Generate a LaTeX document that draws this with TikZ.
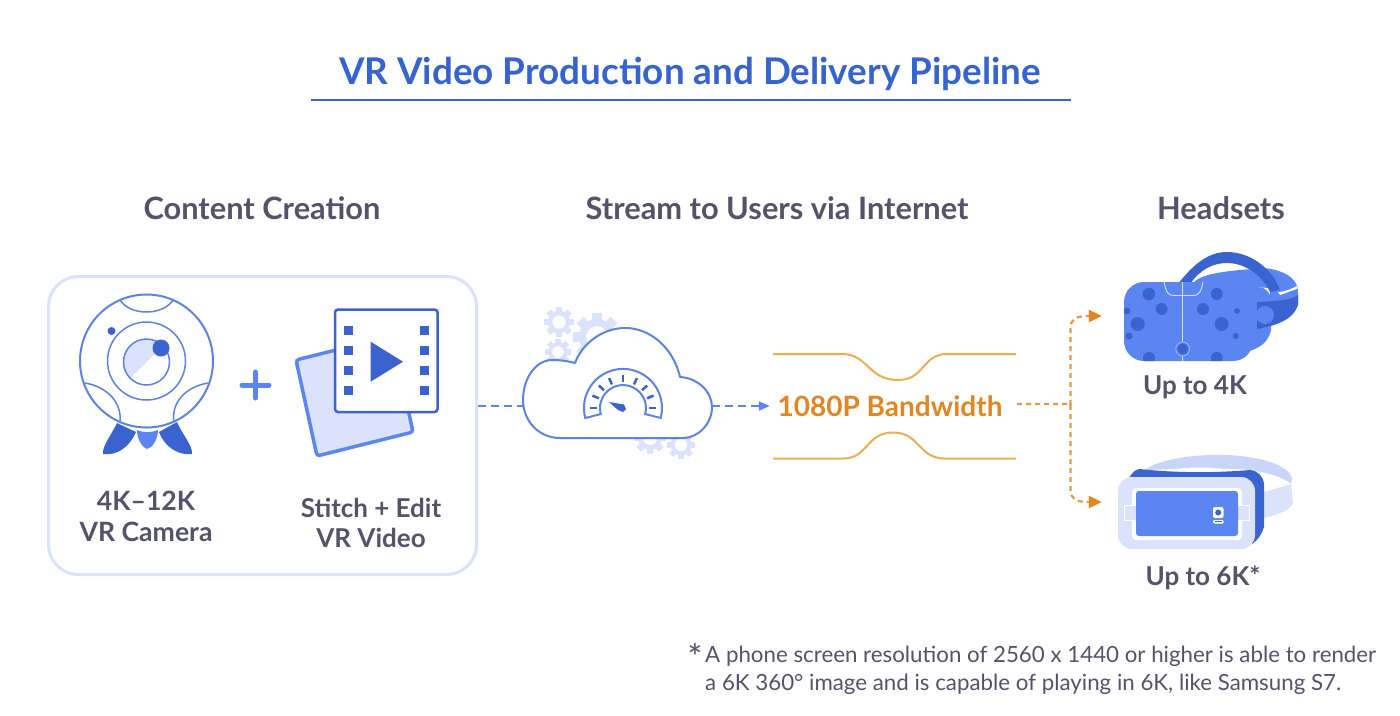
\documentclass[tikz,border=0pt]{standalone}
\usepackage{fontspec}
\setmainfont{Lato}
\usetikzlibrary{arrows.meta,calc}
\definecolor{cT}{HTML}{3563CF}
\definecolor{cB}{HTML}{5B86F2}
\definecolor{cD}{HTML}{3A63D0}
\definecolor{cL}{HTML}{DAE3FB}
\definecolor{cM}{HTML}{C9D6F9}
\definecolor{cLine}{HTML}{5A84E0}
\definecolor{cTxt}{HTML}{53536B}
\definecolor{cO}{HTML}{E3861F}
\definecolor{cOl}{HTML}{EFAE4E}
\tikzset{
 x=1pt,y=-1pt,
 heading/.style={font=\fontsize{30.8}{34}\selectfont\bfseries,text=cTxt,inner sep=0pt,anchor=center},
 caption/.style={font=\fontsize{26}{30}\selectfont\bfseries,text=cTxt,inner sep=0pt,align=center,anchor=center},
 outl/.style={draw=cLine,line width=2pt,line join=round},
 thin outl/.style={draw=cLine,line width=1.5pt},
 bluedash/.style={draw=cB,line width=2pt,dash pattern=on 8pt off 5pt},
 orangedash/.style={draw=cO!85,line width=2.2pt,dash pattern=on 5pt off 4pt},
 bluetip/.style={-{Triangle[length=11pt,width=9pt,fill=cB,sep=0pt]}},
 orangetip/.style={-{Triangle[length=13pt,width=12pt,fill=cO,color=cO]}},
 port/.style={inner sep=0pt,minimum size=0pt},
}
\newcommand{\gearshape}[3]{% x y r
 \begin{scope}[shift={(#1,#2)}]
 \foreach \a in {0,45,...,359}{\fill[cL,rotate=\a] (-#3*0.2,-#3*0.6) rectangle (#3*0.2,-#3);}
 \draw[cL,line width=#3*0.3pt] (0,0) circle[radius=#3*0.6];
 \end{scope}}
\newcommand{\dotc}[3]{\fill[cD] (#1,#2) circle[radius=#3];}
\begin{document}
\begin{tikzpicture}
\useasboundingbox (0,0) rectangle (1400,715);
\fill[white] (0,0) rectangle (1400,715);
% title
\node[inner sep=0pt,text=cT,font=\fontsize{36.8}{40}\selectfont\bfseries] (title) at (690,74) {VR Video Production and Delivery Pipeline};
\draw[cT,line width=2pt] (311,99.5) -- (1071,99.5);
% headings
\node[heading] (h1) at (262,208) {Content Creation};
\node[heading] (h2) at (777,208) {Stream to Users via Internet};
\node[heading] (h3) at (1221,208) {Headsets};
% panel
\node[draw=cL,line width=3pt,rounded corners=30pt,minimum width=428pt,minimum height=298pt,inner sep=0pt] (box) at (262.5,425.5) {};
% camera legs
\fill[cD] (117,423) .. controls (112,434) and (102,446) .. (103,454) .. controls (118,456) and (130,446) .. (136,432) -- cycle;
\fill[cD] (159,432) .. controls (164,446) and (178,456) .. (192,454) .. controls (193,446) and (182,434) .. (177,422) -- cycle;
\fill[cB] (137,430) .. controls (137,440) and (143,448) .. (147,449) .. controls (152,448) and (158,440) .. (158,430) .. controls (150,433) and (144,433) .. (137,430) -- cycle;
% camera
\draw[outl,fill=white] (146.5,361) circle[radius=66.5];
\draw[thin outl] (120,300) .. controls (130,316) and (163,316) .. (173,300);
\draw[thin outl] (85,383) .. controls (108,387) and (122,403) .. (120,422);
\draw[thin outl] (208,383) .. controls (185,387) and (171,403) .. (174,422);
\draw[thin outl] (146.5,361) circle[radius=39];
\fill[cL] (130.5,378) arc[start angle=135,end angle=315,radius=22.6] -- cycle;
\draw[thin outl] (146.5,362) circle[radius=23];
\fill[cD] (161,348) circle[radius=8.5];
\fill[cD] (111.5,331) circle[radius=4];
% plus
\draw[cB,line width=5pt,line cap=round] (242,385) -- (269,385) (255.5,372) -- (255.5,398);
% video
\draw[cB,line width=3.5pt,fill=cL,rounded corners=3pt] (296,360) -- (317,456) -- (413,432) -- (392,336) -- cycle;
\draw[cD,line width=2.5pt,fill=white,rounded corners=3pt] (335,309.5) rectangle (437.5,412);
\foreach \yy in {330,350,370,390}{
 \fill[cD] (343.5,\yy-4.5) rectangle (352.5,\yy+4.5);
 \fill[cD] (419.5,\yy-4.5) rectangle (428.5,\yy+4.5);}
\fill[cD] (370.7,341.7) -- (403,361.7) -- (370.7,381.7) -- cycle;
% captions
\node[caption,font=\fontsize{26.6}{31}\selectfont\bfseries] (capA) at (146,516) {4K–12K\\VR Camera};
\node[caption] (capB) at (371,523) {Stitch + Edit\\VR Video};
% gears
\gearshape{559}{322}{15}
\gearshape{597}{337}{24}
\gearshape{558}{352}{13}
\gearshape{650}{438}{16}
\gearshape{681}{445}{14}
% cloud
\path[outl,fill=white] (560,438) .. controls (538,438) and (523,420) .. (523,400)
 .. controls (523,378) and (536,360) .. (552,360)
 .. controls (560,360) and (568,361) .. (575,363)
 .. controls (582,344) and (602,328) .. (625,328)
 .. controls (652,328) and (674,350) .. (680,377)
 .. controls (698,378) and (712,392) .. (712,407)
 .. controls (712,424) and (698,438) .. (683,438) -- cycle;
% gauge
\draw[outl,line join=miter] (585.3,418) arc[start angle=165,end angle=375,radius=39] -- (645.2,414) arc[start angle=15,end angle=-195,radius=23] -- cycle;
\foreach \a in {0,22,43,65,90,115,137,158,180}{
 \draw[cD,line width=2.5pt] ($(623,408)+(-\a:26)$) -- ($(623,408)+(-\a:33)$);}
\fill[cD] (609,402) -- (624,404.5) -- (626,409) -- (623,412) -- (618,410) -- cycle;
% connector ends
\node[port] (cloudL) at (523,406) {};
\node[port] (cloudR) at (712,406) {};
\node[port] (boxE) at (478,406) {};
\node[port] (bwIn) at (770,406) {};
\draw[bluedash] (boxE) -- (cloudL);
\draw[bluedash,bluetip] (cloudR) -- (bwIn);
% bandwidth
\node[inner sep=0pt,text=cO,font=\fontsize{28}{32}\selectfont\bfseries] (bwl) at (890,406) {1080P Bandwidth};
\draw[cOl,line width=2pt] (773,354) -- (842,354) .. controls (868,354) and (868,380) .. (898,380) .. controls (925,380) and (922,354) .. (947,354) -- (1016,354);
\draw[cOl,line width=2pt] (773,458.5) -- (843,458.5) .. controls (868,458.5) and (866,432.5) .. (893,432.5) .. controls (920,432.5) and (918,458.5) .. (945,458.5) -- (1016,458.5);
% forks
\node[port] (vrA) at (1102,316) {};
\node[port] (vrB) at (1102,502) {};
\coordinate (fork) at (1070.5,405);
\coordinate (bwOut) at (1017,404);
\draw[orangedash] (bwOut) -- (1064,404) .. controls (1068,404) and (1070.5,402) .. (fork);
\draw[orangedash,orangetip] (fork) -- (1070.5,328) .. controls (1070.5,320) and (1075,316) .. (1088,316) -- (vrA);
\draw[orangedash,orangetip] (fork) -- (1070.5,490) .. controls (1070.5,498) and (1075,502) .. (1088,502) -- (vrB);
% headset 1
\fill[cB] (1193,284) .. controls (1198,272) and (1240,270) .. (1265,268) .. controls (1280,270) and (1298,276) .. (1298,292) -- (1298,304) -- (1270,304) -- (1270,288) -- cycle;
\fill[white] (1278,292) .. controls (1282,292) and (1287,291) .. (1297,286) -- (1297,289) -- (1280,295) -- cycle;
\fill[cD] (1178,284) .. controls (1195,262) and (1210,252) .. (1227,252) .. controls (1250,252) and (1272,268) .. (1280,290) -- (1270,292) .. controls (1262,275) and (1245,263) .. (1227,263) .. controls (1212,263) and (1200,270) .. (1190,284) -- cycle;
\fill[cB] (1245,285) -- (1263,288) .. controls (1268,290) and (1271,295) .. (1271,300) -- (1271,330) .. controls (1268,345) and (1255,350) .. (1245,352) -- cycle;
\fill[cD] (1257,302) .. controls (1275,301) and (1290,301) .. (1298,295) -- (1298,305) .. controls (1294,318) and (1280,325) .. (1257,329) -- cycle;
\fill[cB] (1265,315) circle[radius=9];
\begin{scope}
\path[fill=cB,rounded corners=20pt] (1124,282) rectangle (1253,361);
\clip[rounded corners=20pt] (1124,282) rectangle (1253,361);
\foreach \xx/\yy/\r in {1149/294/6.3,1161.7/309/6,1137.7/324/7,1127/311/3.5,1129/336/3.5,1149/358/6,1216.7/294/6,1203/309/6,1221.7/324/7,1237/311/3,1235.7/336/3,1216.7/358/6,1182.7/349/5.5}{\dotc{\xx}{\yy}{\r}}
\draw[cL,line width=.9pt] (1164,282) .. controls (1166,292) and (1168,295.5) .. (1174,295.5) -- (1193,295.5) .. controls (1199,295.5) and (1201,292) .. (1203,282);
\draw[cL,line width=.9pt] (1182.5,282) -- (1182.5,342) (1182.5,356) -- (1182.5,361);
\draw[cL!60!cB,line width=.6pt] (1182.7,349) circle[radius=7];
\end{scope}
\node[caption] (capC) at (1195,387) {Up to 4K};
% headset 2
\fill[cM] (1145,470) .. controls (1160,458) and (1200,454) .. (1225,455) .. controls (1260,456) and (1288,465) .. (1292,478) -- (1291,484) .. controls (1280,474) and (1250,468) .. (1225,469) .. controls (1210,467) and (1190,467) .. (1175,469) -- cycle;
\fill[cL] (1264,492) -- (1291,484) -- (1293,503) .. controls (1290,510) and (1280,514) .. (1264,518) -- cycle;
\fill[cD] (1128,480) .. controls (1132,472) and (1136,469) .. (1140,469) .. controls (1175,473) and (1215,473) .. (1250,470) .. controls (1258,471) and (1263,476) .. (1264,484) -- (1264,527) .. controls (1262,534) and (1258,540) .. (1252,544) -- (1240,480) -- cycle;
\fill[cL,rounded corners=14pt] (1118,477) rectangle (1255,549);
\fill[white,rounded corners=4pt] (1132,488) rectangle (1242,540);
\fill[cL] (1124,505) rectangle (1136,520);
\fill[cL] (1238,505) rectangle (1249,520);
\fill[cB,rounded corners=3pt] (1136,491) rectangle (1238,536);
\draw[white,line width=.8pt] (1136,505) -- (1124,505) -- (1124,520) -- (1136,520);
\draw[white,line width=.8pt] (1238,505) -- (1249,505) -- (1249,520) -- (1238,520);
\fill[white,rounded corners=2pt] (1213,507) rectangle (1223.5,518);
\fill[cD] (1218.2,512.5) circle[radius=3];
\fill[white,rounded corners=1pt] (1213,520) rectangle (1223.5,523.5);
\draw[cD,line width=.7pt] (1215,521.7) -- (1221.5,521.7);
\node[caption] (capD) at (1203,578) {Up to 6K*};
% footnote
\node[inner sep=0pt,text=cTxt,font=\fontsize{36}{36}\selectfont] (star) at (695,657) {*};
\node[inner sep=0pt,anchor=north west,text=cTxt,font=\fontsize{22.3}{28}\selectfont] (fn) at (705,646) {A phone screen resolution of 2560 x 1440 or higher is able to render};
\node[inner sep=0pt,anchor=north west,text=cTxt,font=\fontsize{22.3}{28}\selectfont] (fnb) at (705,674) {a 6K 360° image and is capable of playing in 6K, like Samsung S7.};
\end{tikzpicture}
\end{document}
